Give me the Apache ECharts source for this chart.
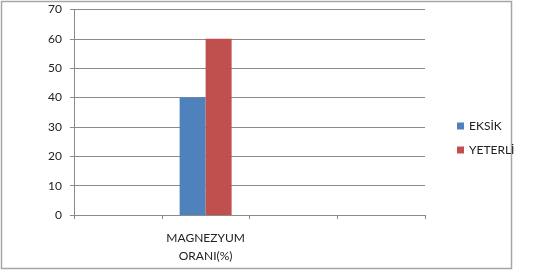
<!DOCTYPE html>
<html>
<head>
<meta charset="utf-8">
<script src="https://cdn.jsdelivr.net/npm/echarts@6/dist/echarts.min.js"></script>
<style>
  html, body { margin: 0; padding: 0; background: #fff; }
  #chart { width: 543px; height: 270px; }
</style>
</head>
<body>
<div id="chart"></div>
<script>
// kategori ve seri verileri
const categories = ['', 'MAGNEZYUM\nORANI(%)', '', '']
const eksik = [null, 40, null, null]
const yeterli = [null, 60, null, null]
const yTicks = { min: 0, max: 70, interval: 10 }

const chart = echarts.init(document.getElementById('chart'))
const font = 'Lato, "Open Sans", sans-serif'

chart.setOption({
  animation: false,
  textStyle: { fontFamily: font },
  graphic: [
    {
      type: 'rect',
      shape: { x: 1.5, y: 1.5, width: 510, height: 267 },
      style: { fill: 'none', stroke: '#a6a6a6', lineWidth: 1.5 },
    },
  ],
  legend: {
    orient: 'vertical',
    left: 452,
    top: 115,
    itemWidth: 7,
    itemHeight: 7,
    itemGap: 12,
    icon: 'rect',
    textStyle: { color: '#222', fontSize: 12, fontFamily: font },
    data: ['EKSİK', 'YETERLİ'],
  },
  grid: { left: 74, right: 118, top: 9.5, bottom: 55 },
  xAxis: {
    type: 'category',
    data: categories,
    axisLine: { lineStyle: { color: '#8a8a8a', width: 1 } },
    axisTick: { show: true, interval: 0, length: 4, lineStyle: { color: '#8a8a8a' } },
    axisLabel: {
      interval: 0,
      margin: 14,
      color: '#222',
      fontSize: 12,
      lineHeight: 18,
      fontFamily: font,
    },
  },
  yAxis: {
    type: 'value',
    min: yTicks.min,
    max: yTicks.max,
    interval: yTicks.interval,
    axisLine: { show: true, lineStyle: { color: '#8a8a8a', width: 1 } },
    axisTick: { show: true, length: 4, lineStyle: { color: '#8a8a8a' } },
    axisLabel: { margin: 12, color: '#222', fontSize: 12, fontFamily: font },
    splitLine: { lineStyle: { color: '#8a8a8a', width: 1 } },
  },
  series: [
    {
      name: 'EKSİK',
      type: 'bar',
      data: eksik,
      barWidth: 26,
      barGap: '0%',
      itemStyle: { color: '#4f81bd' },
    },
    {
      name: 'YETERLİ',
      type: 'bar',
      data: yeterli,
      barWidth: 26,
      barGap: '0%',
      itemStyle: { color: '#c0504d' },
    },
  ],
})
</script>
</body>
</html>
